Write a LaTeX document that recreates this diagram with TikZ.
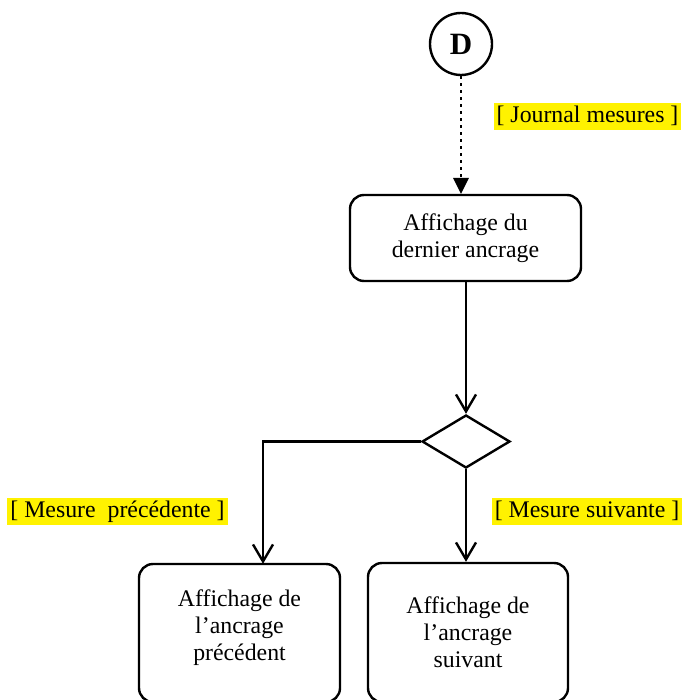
\documentclass[tikz,border=0pt]{standalone}
\usepackage{fontspec}
\setmainfont{Liberation Serif}
\usetikzlibrary{arrows.meta,shapes.geometric}
\begin{document}
\begin{tikzpicture}[x=1pt,y=-1pt,line width=2.4pt,
  txt/.style={font=\fontsize{23.8}{27}\selectfont},
  box/.style={txt,draw,rounded corners=14pt,align=center,inner sep=0pt},
  lbl/.style={txt,fill=yellow,inner xsep=3pt,inner ysep=1.5pt,text height=18pt,text depth=6pt},
  flow/.style={-{Straight Barb[length=17pt,width=20pt,line width=2.4pt]}},
  dotflow/.style={dash pattern=on 2.5pt off 4.5pt,line width=2.6pt,-{Triangle[length=16pt,width=16pt,line width=0pt]}}]
\useasboundingbox (0,0) rectangle (683,700);
\node[draw,circle,minimum size=62pt,inner sep=0pt,font=\fontsize{31}{31}\selectfont\bfseries] (D) at (461,44) {D};
\node[box,minimum width=231pt,minimum height=86pt] (top) at (465.5,238) {Affichage du\\dernier ancrage};
\node[draw,diamond,minimum width=88pt,minimum height=53pt,inner sep=0pt] (dia) at (466,441.5) {};
\node[box,minimum width=201pt,minimum height=138pt,text depth=15pt] (left) at (239.5,633) {Affichage de\\l’ancrage\\précédent};
\node[box,minimum width=200pt,minimum height=139pt] (right) at (468,632.5) {Affichage de\\l’ancrage\\suivant};
\node[lbl] (jm) at (587.5,117) {[ Journal mesures ]};
\node[lbl] (mp) at (117.5,511) {[ Mesure\ \ précédente ]};
\node[lbl] (ms) at (587,511) {[ Mesure suivante ]};
\draw[dotflow] (D) -- (D |- top.north);
\draw[flow] (dia |- top.south) -- (dia.north);
\draw[flow] (dia.west) -| ([xshift=23.5pt,yshift=-1pt]left.north);
\draw[flow] (dia.south) -- (dia.south |- right.north);
\end{tikzpicture}
\end{document}
